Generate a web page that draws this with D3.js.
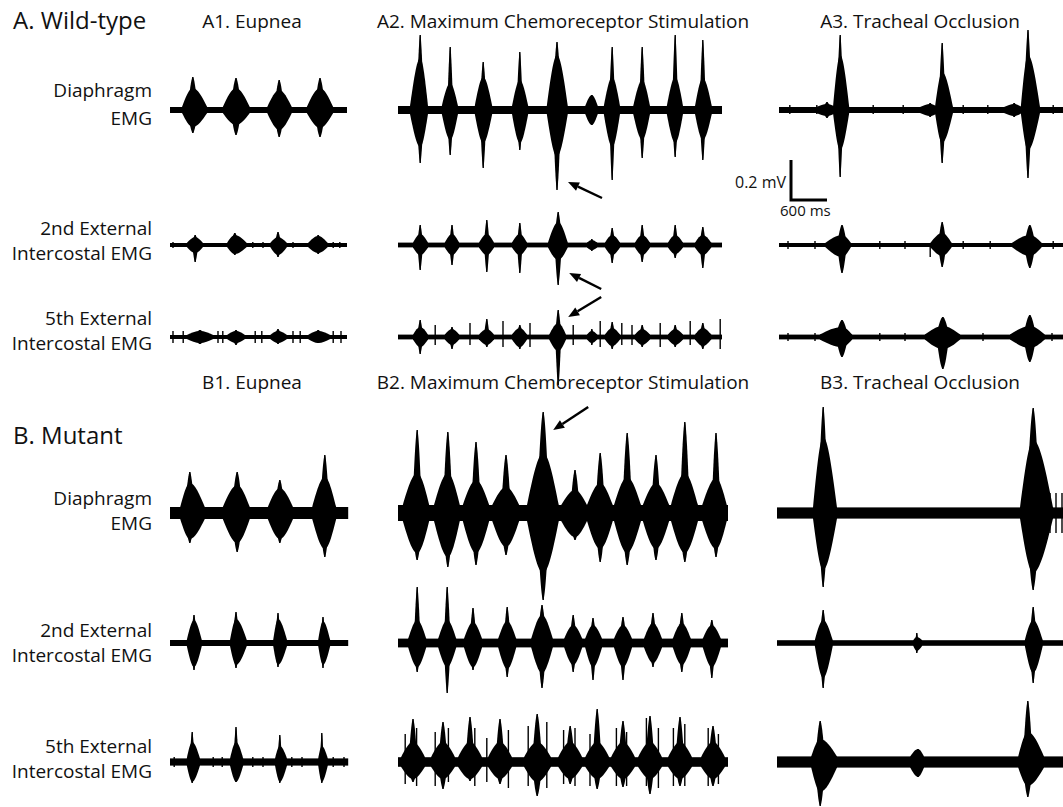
<!DOCTYPE html>
<html>
<head>
<meta charset="utf-8">
<script src="https://cdn.jsdelivr.net/npm/d3@7"></script>
<style>
  body { margin: 0; background: #fff; }
  svg { display: block; }
  text { font-family: "Open Sans", sans-serif; fill: #111; }
</style>
</head>
<body>
<svg width="1063" height="807"></svg>
<script>
// EMG recordings, wild-type vs mutant
// burst = [onset s, peak s, offset s, envelope up mV, envelope down mV, spike up mV, spike down mV]
// tick  = [time s, up mV, down mV]  (single spikes / ECG artefacts on the baseline)

var groups = ["A. Wild-type", "B. Mutant"];
var conditions = ["Eupnea", "Maximum Chemoreceptor Stimulation", "Tracheal Occlusion"];
var muscles = [["Diaphragm", "EMG"], ["2nd External", "Intercostal EMG"], ["5th External", "Intercostal EMG"]];

// record length (s) for each column
var durA = [2.95, 5.40, 4.80];
var durB = [2.97, 5.50, 4.80];

// baseline noise (mV), rows = dia / 2nd / 5th, cols = eupnea / chemo / occlusion
var noiseA = [[0.015, 0.02, 0.015], [0.01, 0.012, 0.01], [0.01, 0.012, 0.012]];
var noiseB = [[0.03, 0.04, 0.028], [0.015, 0.022, 0.014], [0.018, 0.024, 0.028]];

// ---- wild-type
var A1_dia = [
  [0.20, 0.38, 0.62, 0.11, 0.085, 0.165, 0.115],
  [0.88, 1.10, 1.33, 0.11, 0.075, 0.16, 0.125],
  [1.62, 1.82, 2.03, 0.10, 0.10, 0.15, 0.135],
  [2.28, 2.50, 2.72, 0.11, 0.09, 0.16, 0.135]];
var A2_dia = [
  [0.20, 0.37, 0.50, 0.26, 0.185, 0.375, 0.265],
  [0.73, 0.87, 1.00, 0.135, 0.15, 0.315, 0.225],
  [1.28, 1.42, 1.57, 0.165, 0.165, 0.24, 0.29],
  [1.90, 2.03, 2.17, 0.15, 0.165, 0.29, 0.20],
  [2.48, 2.65, 2.83, 0.275, 0.235, 0.34, 0.40],
  [3.12, 3.23, 3.33, 0.075, 0.075, 0.075, 0.075],
  [3.43, 3.57, 3.70, 0.165, 0.185, 0.315, 0.35],
  [3.92, 4.07, 4.20, 0.15, 0.15, 0.315, 0.24],
  [4.48, 4.62, 4.75, 0.165, 0.165, 0.375, 0.235],
  [4.95, 5.08, 5.23, 0.16, 0.15, 0.35, 0.25]];
var A3_dia = [
  [0.62, 0.80, 0.95, 0.03, 0.03, 0.04, 0.04],
  [0.90, 1.02, 1.17, 0.275, 0.20, 0.375, 0.335],
  [2.35, 2.52, 2.65, 0.03, 0.03, 0.035, 0.035],
  [2.60, 2.72, 2.90, 0.19, 0.165, 0.335, 0.265],
  [3.75, 3.92, 4.05, 0.03, 0.03, 0.035, 0.035],
  [4.03, 4.15, 4.35, 0.275, 0.20, 0.40, 0.34]];
var A3_diaTicks = [[0.18, 0.025, 0.02], [0.63, 0.025, 0.02], [1.57, 0.025, 0.02], [2.07, 0.025, 0.02],
  [3.07, 0.025, 0.02], [3.48, 0.025, 0.02], [4.57, 0.025, 0.02]];

var A1_2nd = [
  [0.28, 0.42, 0.55, 0.04, 0.04, 0.05, 0.085],
  [0.95, 1.08, 1.28, 0.05, 0.045, 0.06, 0.05],
  [1.67, 1.80, 1.95, 0.04, 0.05, 0.065, 0.06],
  [2.30, 2.47, 2.63, 0.045, 0.04, 0.05, 0.045]];
var A1_2ndTicks = [[0.05, 0.015, 0.015], [1.38, 0.015, 0.015], [1.55, 0.015, 0.015],
  [2.05, 0.015, 0.015], [2.72, 0.015, 0.015], [2.83, 0.015, 0.015]];
var A2_2nd = [
  [0.25, 0.37, 0.50, 0.055, 0.05, 0.10, 0.125],
  [0.78, 0.90, 1.02, 0.055, 0.05, 0.10, 0.10],
  [1.35, 1.48, 1.60, 0.055, 0.05, 0.125, 0.135],
  [1.90, 2.03, 2.15, 0.055, 0.05, 0.11, 0.14],
  [2.50, 2.67, 2.83, 0.115, 0.075, 0.165, 0.20],
  [3.15, 3.23, 3.32, 0.025, 0.025, 0.03, 0.03],
  [3.45, 3.57, 3.70, 0.05, 0.05, 0.085, 0.09],
  [3.95, 4.07, 4.20, 0.05, 0.05, 0.10, 0.085],
  [4.50, 4.62, 4.75, 0.05, 0.045, 0.10, 0.065],
  [4.95, 5.08, 5.22, 0.05, 0.05, 0.09, 0.115]];
var A3_2nd = [
  [0.77, 1.05, 1.20, 0.05, 0.06, 0.10, 0.14],
  [2.52, 2.72, 2.88, 0.06, 0.055, 0.115, 0.11],
  [3.88, 4.18, 4.38, 0.05, 0.055, 0.10, 0.115]];
var A3_2ndTicks = [[0.15, 0.02, 0.02], [0.60, 0.02, 0.02], [1.68, 0.02, 0.02], [2.10, 0.02, 0.02],
  [2.52, 0.01, 0.06], [3.07, 0.02, 0.02], [3.52, 0.02, 0.02], [4.57, 0.02, 0.02]];

var A1_5th = [
  [0.28, 0.50, 0.72, 0.03, 0.03, 0.035, 0.035],
  [0.95, 1.10, 1.25, 0.03, 0.03, 0.035, 0.04],
  [1.67, 1.80, 1.95, 0.03, 0.03, 0.04, 0.035],
  [2.30, 2.47, 2.67, 0.03, 0.03, 0.035, 0.03]];
var A1_5thTicks = [[0.05, 0.03, 0.03], [0.22, 0.03, 0.03], [0.80, 0.03, 0.03], [0.88, 0.03, 0.03],
  [1.42, 0.03, 0.03], [1.53, 0.03, 0.03], [2.05, 0.03, 0.03], [2.17, 0.03, 0.03],
  [2.72, 0.03, 0.03], [2.85, 0.03, 0.03]];
var A2_5th = [
  [0.25, 0.37, 0.50, 0.05, 0.05, 0.085, 0.085],
  [0.78, 0.90, 1.02, 0.04, 0.04, 0.05, 0.06],
  [1.35, 1.48, 1.60, 0.04, 0.04, 0.09, 0.05],
  [1.90, 2.03, 2.15, 0.045, 0.05, 0.06, 0.06],
  [2.52, 2.67, 2.80, 0.07, 0.07, 0.135, 0.24],
  [3.15, 3.23, 3.32, 0.03, 0.03, 0.04, 0.04],
  [3.45, 3.57, 3.70, 0.045, 0.045, 0.075, 0.06],
  [3.95, 4.07, 4.20, 0.04, 0.04, 0.06, 0.05],
  [4.50, 4.62, 4.75, 0.04, 0.04, 0.06, 0.05],
  [4.95, 5.08, 5.22, 0.045, 0.045, 0.07, 0.06]];
var A2_5thTicks = [[0.62, 0.06, 0.04], [1.20, 0.07, 0.04], [1.75, 0.08, 0.05], [2.20, 0.07, 0.05],
  [2.92, 0.06, 0.04], [3.37, 0.08, 0.05], [3.73, 0.07, 0.04], [3.90, 0.06, 0.04],
  [4.37, 0.07, 0.05], [4.87, 0.08, 0.04], [5.37, 0.09, 0.06]];
var A3_5th = [
  [0.68, 1.05, 1.22, 0.05, 0.05, 0.085, 0.10],
  [2.43, 2.73, 3.02, 0.055, 0.06, 0.10, 0.16],
  [3.85, 4.18, 4.43, 0.055, 0.055, 0.11, 0.125]];
var A3_5thTicks = [[0.15, 0.02, 0.02], [0.60, 0.02, 0.02], [1.68, 0.02, 0.02], [2.10, 0.02, 0.02],
  [3.40, 0.02, 0.02], [4.55, 0.02, 0.02]];

// ---- mutant
var B1_dia = [
  [0.17, 0.33, 0.58, 0.15, 0.13, 0.205, 0.15],
  [0.88, 1.12, 1.33, 0.14, 0.15, 0.205, 0.195],
  [1.63, 1.83, 2.05, 0.125, 0.13, 0.165, 0.15],
  [2.37, 2.58, 2.77, 0.18, 0.18, 0.29, 0.22]];
var B2_dia = [
  [0.08, 0.32, 0.52, 0.20, 0.20, 0.415, 0.235],
  [0.60, 0.83, 1.03, 0.20, 0.22, 0.405, 0.27],
  [1.08, 1.30, 1.52, 0.165, 0.20, 0.355, 0.26],
  [1.57, 1.80, 2.02, 0.13, 0.17, 0.29, 0.21],
  [2.15, 2.42, 2.68, 0.30, 0.30, 0.505, 0.435],
  [2.72, 2.95, 3.15, 0.115, 0.12, 0.215, 0.135],
  [3.15, 3.37, 3.58, 0.15, 0.18, 0.30, 0.245],
  [3.60, 3.82, 4.05, 0.18, 0.20, 0.40, 0.26],
  [4.08, 4.30, 4.52, 0.15, 0.18, 0.29, 0.235],
  [4.55, 4.78, 5.00, 0.20, 0.20, 0.455, 0.245],
  [5.07, 5.30, 5.48, 0.175, 0.18, 0.40, 0.22]];
var B3_dia = [
  [0.60, 0.77, 1.00, 0.38, 0.285, 0.53, 0.37],
  [4.05, 4.27, 4.60, 0.365, 0.30, 0.525, 0.385]];
var B3_diaTicks = [[4.43, 0.12, 0.12], [4.55, 0.10, 0.10], [4.65, 0.10, 0.10], [4.75, 0.10, 0.10]];

var B1_2nd = [
  [0.28, 0.40, 0.53, 0.115, 0.12, 0.14, 0.135],
  [1.00, 1.10, 1.28, 0.12, 0.11, 0.155, 0.125],
  [1.72, 1.80, 1.95, 0.12, 0.11, 0.15, 0.12],
  [2.47, 2.55, 2.67, 0.11, 0.11, 0.13, 0.125]];
var B2_2nd = [
  [0.17, 0.32, 0.47, 0.115, 0.12, 0.28, 0.145],
  [0.67, 0.82, 0.97, 0.115, 0.12, 0.28, 0.25],
  [1.10, 1.25, 1.40, 0.105, 0.12, 0.175, 0.135],
  [1.67, 1.82, 1.97, 0.11, 0.13, 0.18, 0.17],
  [2.22, 2.40, 2.58, 0.14, 0.15, 0.19, 0.225],
  [2.77, 2.92, 3.07, 0.09, 0.11, 0.14, 0.145],
  [3.12, 3.25, 3.40, 0.09, 0.12, 0.125, 0.185],
  [3.60, 3.75, 3.90, 0.09, 0.12, 0.13, 0.185],
  [4.10, 4.25, 4.40, 0.10, 0.10, 0.15, 0.12],
  [4.58, 4.73, 4.88, 0.10, 0.11, 0.15, 0.145],
  [5.08, 5.23, 5.38, 0.09, 0.12, 0.115, 0.175]];
var B3_2nd = [
  [0.63, 0.77, 0.93, 0.115, 0.175, 0.165, 0.225],
  [2.27, 2.33, 2.42, 0.03, 0.04, 0.05, 0.05],
  [4.13, 4.27, 4.43, 0.115, 0.15, 0.18, 0.20]];

var B1_5th = [
  [0.28, 0.37, 0.50, 0.10, 0.10, 0.15, 0.105],
  [1.00, 1.10, 1.22, 0.10, 0.10, 0.175, 0.10],
  [1.75, 1.83, 1.95, 0.08, 0.10, 0.135, 0.105],
  [2.47, 2.53, 2.63, 0.08, 0.10, 0.145, 0.105]];
var B1_5thTicks = [[0.07, 0.025, 0.025], [0.72, 0.025, 0.025], [0.87, 0.025, 0.025], [1.38, 0.025, 0.025],
  [1.55, 0.025, 0.025], [2.03, 0.025, 0.025], [2.20, 0.025, 0.025], [2.72, 0.025, 0.025], [2.90, 0.025, 0.025]];
var B2_5th = [
  [0.05, 0.25, 0.45, 0.10, 0.085, 0.215, 0.10],
  [0.55, 0.75, 0.95, 0.10, 0.085, 0.20, 0.135],
  [1.00, 1.20, 1.40, 0.10, 0.085, 0.225, 0.095],
  [1.50, 1.70, 1.90, 0.10, 0.085, 0.215, 0.11],
  [2.10, 2.32, 2.55, 0.10, 0.10, 0.24, 0.17],
  [2.67, 2.87, 3.07, 0.10, 0.085, 0.18, 0.11],
  [3.12, 3.32, 3.52, 0.10, 0.085, 0.265, 0.135],
  [3.55, 3.75, 3.95, 0.10, 0.085, 0.205, 0.125],
  [4.00, 4.20, 4.40, 0.10, 0.085, 0.23, 0.16],
  [4.50, 4.70, 4.90, 0.10, 0.085, 0.225, 0.12],
  [5.05, 5.25, 5.45, 0.10, 0.085, 0.18, 0.12]];
var B2_5thTicks = [[0.12, 0.14, 0.11], [0.31, 0.17, 0.12], [0.62, 0.15, 0.12], [0.84, 0.17, 0.10],
  [1.28, 0.17, 0.12], [1.48, 0.12, 0.10], [1.84, 0.16, 0.13], [2.17, 0.18, 0.12],
  [2.48, 0.20, 0.13], [2.76, 0.16, 0.11], [2.95, 0.17, 0.12], [3.20, 0.14, 0.12],
  [3.64, 0.17, 0.12], [3.81, 0.15, 0.12], [4.14, 0.22, 0.12], [4.34, 0.17, 0.13],
  [4.59, 0.17, 0.12], [4.78, 0.19, 0.12], [5.17, 0.17, 0.12], [5.34, 0.14, 0.11]];
var B3_5th = [
  [0.57, 0.72, 1.00, 0.115, 0.15, 0.205, 0.22],
  [2.22, 2.35, 2.45, 0.065, 0.075, 0.065, 0.075],
  [4.02, 4.18, 4.45, 0.15, 0.12, 0.305, 0.175]];

// ---- layout
var svg = d3.select("svg"),
    width = +svg.attr("width"),
    height = +svg.attr("height");

var secPx = 60;   // 600 ms = 36 px
var mvPx = 200;   // 0.2 mV = 40 px

var colX0 = [[170, 398, 779], [170, 398, 777]];
var rowY = [[110, 245, 337], [513, 643, 762]];
var labelY = [[[97, 125], [235, 260], [325, 350]], [[505, 530], [637, 662], [753, 778]]];
var titleY = [28, 389];
var titleX = [252, 563, 920];
var groupY = [29, 444];

var tracce = [
  [0, 0, 0, A1_dia, []], [0, 1, 0, A2_dia, []], [0, 2, 0, A3_dia, A3_diaTicks],
  [0, 0, 1, A1_2nd, A1_2ndTicks], [0, 1, 1, A2_2nd, []], [0, 2, 1, A3_2nd, A3_2ndTicks],
  [0, 0, 2, A1_5th, A1_5thTicks], [0, 1, 2, A2_5th, A2_5thTicks], [0, 2, 2, A3_5th, A3_5thTicks],
  [1, 0, 0, B1_dia, []], [1, 1, 0, B2_dia, []], [1, 2, 0, B3_dia, B3_diaTicks],
  [1, 0, 1, B1_2nd, []], [1, 1, 1, B2_2nd, []], [1, 2, 1, B3_2nd, []],
  [1, 0, 2, B1_5th, B1_5thTicks], [1, 1, 2, B2_5th, B2_5thTicks], [1, 2, 2, B3_5th, []]
].map(function(d) {
  return {
    g: d[0], c: d[1], r: d[2], bursts: d[3], ticks: d[4],
    dur: (d[0] === 0 ? durA : durB)[d[1]],
    noise: (d[0] === 0 ? noiseA : noiseB)[d[2]][d[1]]
  };
});

var scale = {};  // keep scales for the arrows

tracce.forEach(function(t) {
  var x0 = colX0[t.g][t.c], base = rowY[t.g][t.r];
  var x = d3.scaleLinear().domain([0, t.dur]).range([x0, x0 + t.dur * secPx]);
  var y = d3.scaleLinear().domain([-1, 1]).range([base + mvPx, base - mvPx]);
  scale[t.g + "" + t.c + "" + t.r] = {x: x, y: y, bursts: t.bursts};

  var g = svg.append("g").attr("class", "traccia");

  // baseline noise band
  g.append("rect")
    .attr("x", x(0))
    .attr("width", x(t.dur) - x(0))
    .attr("y", y(t.noise))
    .attr("height", y(-t.noise) - y(t.noise))
    .attr("fill", "#000");

  var area = d3.area()
    .x(function(d) { return x(d[0]); })
    .y0(function(d) { return y(-d[2]); })
    .y1(function(d) { return y(d[1]); })
    .curve(d3.curveMonotoneX);

  t.bursts.forEach(function(b) {
    // dense body of the burst
    g.append("path")
      .attr("d", area([[b[0], t.noise, t.noise], [b[1], b[3], b[4]], [b[2], t.noise, t.noise]]))
      .attr("fill", "#000");
    // narrow spire of the largest units, tapering to the peak spike
    var w = (b[2] - b[0]) * 0.16;
    g.append("path")
      .attr("d", area([[b[1] - w, b[3] * 0.5, b[4] * 0.5], [b[1], b[5], b[6]], [b[1] + w, b[3] * 0.5, b[4] * 0.5]]))
      .attr("fill", "#000");
    g.append("line")
      .attr("x1", x(b[1])).attr("x2", x(b[1]))
      .attr("y1", y(b[5])).attr("y2", y(-b[6]))
      .attr("stroke", "#000")
      .attr("stroke-width", 1.4);
  });

  t.ticks.forEach(function(k) {
    g.append("line")
      .attr("x1", x(k[0])).attr("x2", x(k[0]))
      .attr("y1", y(k[1])).attr("y2", y(-k[2]))
      .attr("stroke", "#000")
      .attr("stroke-width", 1.4);
  });
});

// ---- text
groups.forEach(function(name, gi) {
  svg.append("text")
    .attr("x", 13).attr("y", groupY[gi])
    .attr("font-size", 24)
    .text(name);

  conditions.forEach(function(cond, ci) {
    svg.append("text")
      .attr("x", titleX[ci]).attr("y", titleY[gi])
      .attr("text-anchor", "middle")
      .attr("font-size", 19)
      .text(groups[gi].charAt(0) + (ci + 1) + ". " + cond);
  });

  muscles.forEach(function(lines, ri) {
    lines.forEach(function(line, li) {
      svg.append("text")
        .attr("x", 152).attr("y", labelY[gi][ri][li])
        .attr("text-anchor", "end")
        .attr("font-size", 19)
        .text(line);
    });
  });
});

// ---- scale bar (0.2 mV / 600 ms)
var bar = svg.append("g").attr("transform", "translate(791,200)");
bar.append("path")
  .attr("d", "M0," + (-0.2 * mvPx) + "V0H" + (0.6 * secPx))
  .attr("fill", "none")
  .attr("stroke", "#000")
  .attr("stroke-width", 3);
bar.append("text").attr("x", -5).attr("y", -12).attr("text-anchor", "end").attr("font-size", 16).text("0.2 mV");
bar.append("text").attr("x", -11).attr("y", 16).attr("font-size", 15).text("600 ms");

// ---- arrows pointing at the augmented burst
// [trace key, burst index, which end ("up"/"down"), head dx, head dy, tail dx, tail dy]
var frecce = [
  ["010", 4, "down", 11, -8, 34, 16],
  ["011", 4, "down", 11, -12, 32, 16],
  ["012", 4, "up", 10, 7, 33, -20],
  ["110", 4, "up", 10, 18, 35, -23]
];

frecce.forEach(function(f) {
  var s = scale[f[0]], b = s.bursts[f[1]];
  var hx = s.x(b[1]) + f[3];
  var hy = (f[2] === "up" ? s.y(b[5]) : s.y(-b[6])) + f[4];
  var tx = hx + f[5], ty = hy + f[6];
  var ang = Math.atan2(hy - ty, hx - tx);
  var L = 11, Wd = 4.5;
  var bx = hx - L * Math.cos(ang), by = hy - L * Math.sin(ang);
  svg.append("line")
    .attr("x1", tx).attr("y1", ty).attr("x2", bx).attr("y2", by)
    .attr("stroke", "#000").attr("stroke-width", 2.4);
  svg.append("path")
    .attr("d", "M" + hx + "," + hy +
      "L" + (bx + Wd * Math.sin(ang)) + "," + (by - Wd * Math.cos(ang)) +
      "L" + (bx - Wd * Math.sin(ang)) + "," + (by + Wd * Math.cos(ang)) + "Z")
    .attr("fill", "#000");
});
</script>
</body>
</html>
